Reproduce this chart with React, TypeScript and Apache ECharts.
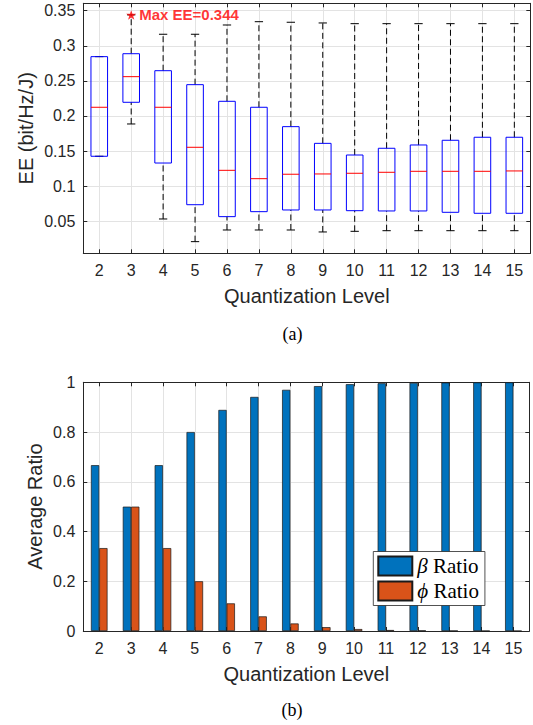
import React, { useEffect, useRef } from "react";
import * as echarts from "echarts";

const categories = ["2", "3", "4", "5", "6", "7", "8", "9", "10", "11", "12", "13", "14", "15"];
const levels = [2, 3, 4, 5, 6, 7, 8, 9, 10, 11, 12, 13, 14, 15];

const eeMin = [0.1426, 0.1886, 0.0533, 0.021, 0.0376, 0.0376, 0.0376, 0.0348, 0.0357, 0.0366, 0.0366, 0.0366, 0.0366, 0.0366];
const eeQ1 = [0.1426, 0.2195, 0.133, 0.0736, 0.0566, 0.0637, 0.0661, 0.0661, 0.0651, 0.0647, 0.0647, 0.0628, 0.0614, 0.0614];
const eeMedian = [0.2124, 0.256, 0.2124, 0.1554, 0.1226, 0.1107, 0.117, 0.1174, 0.1184, 0.1198, 0.1212, 0.1212, 0.1212, 0.1217];
const eeQ3 = [0.2845, 0.2887, 0.2645, 0.2446, 0.2209, 0.2124, 0.1848, 0.161, 0.1444, 0.154, 0.1587, 0.1654, 0.1697, 0.1697];
const eeMax = [0.2845, 0.344, 0.3164, 0.3164, 0.3296, 0.3343, 0.3335, 0.3325, 0.3315, 0.3315, 0.3315, 0.3315, 0.3315, 0.3315];

const maxPoint = [3, 0.344];
const maxLabel = "Max EE=0.344";

const betaRatio = [0.6667, 0.5, 0.6667, 0.8, 0.8889, 0.9412, 0.9697, 0.9846, 0.9922, 0.9961, 0.998, 0.999, 0.9995, 0.9998];
const phiRatio = [0.3333, 0.5, 0.3333, 0.2, 0.1111, 0.0588, 0.0303, 0.0154, 0.0078, 0.0039, 0.002, 0.001, 0.0005, 0.0002];

const AX = "#262626";
const GRID = "#e3e3e3";
const SANS = "Liberation Sans, Arial, Helvetica, sans-serif";
const SERIF = "Liberation Serif, Times New Roman, serif";

const STAR =
  "path://M0,-10 L2.35,-3.24 L9.51,-3.09 L3.8,1.24 L5.88,8.09 L0,4 L-5.88,8.09 L-3.8,1.24 L-9.51,-3.09 L-2.35,-3.24 Z";

function valueX(gridIndex: number, position: "top" | "bottom", main: boolean) {
  return {
    type: "value",
    gridIndex,
    position,
    min: 1.5,
    max: 15.5,
    splitNumber: 14,
    minInterval: 1,
    maxInterval: 1,
    name: main ? "Quantization Level" : "",
    nameLocation: "middle",
    nameGap: 33,
    nameMoveOverlap: false,
    nameTextStyle: { fontSize: 20, color: AX, fontFamily: SANS },
    axisLine: { show: true, onZero: false, lineStyle: { color: AX, width: 1 } },
    axisTick: { show: true, inside: true, length: 4, lineStyle: { color: AX, width: 1 } },
    axisLabel: {
      show: main,
      showMinLabel: false,
      showMaxLabel: false,
      fontSize: 16,
      color: AX,
      fontFamily: SANS,
      margin: 9,
    },
    splitLine: { show: main, lineStyle: { color: GRID, width: 1 } },
  };
}

function valueY(
  gridIndex: number,
  position: "left" | "right",
  main: boolean,
  extra: any,
  name: string,
  nameGap: number,
  hideEnds: boolean
) {
  return Object.assign(
    {
      type: "value",
      gridIndex,
      position,
      name: main ? name : "",
      nameLocation: "middle",
      nameGap,
      nameMoveOverlap: false,
      nameTextStyle: { fontSize: 20, color: AX, fontFamily: SANS },
      axisLine: { show: true, onZero: false, lineStyle: { color: AX, width: 1 } },
      axisTick: { show: true, inside: true, length: 4, lineStyle: { color: AX, width: 1 } },
      axisLabel: {
        show: main,
        showMinLabel: !hideEnds,
        showMaxLabel: !hideEnds,
        fontSize: 16,
        color: AX,
        fontFamily: SANS,
        margin: 8,
      },
      splitLine: { show: main, lineStyle: { color: GRID, width: 1 } },
    },
    extra
  );
}

export default function App() {
  const ref = useRef<HTMLDivElement>(null);

  useEffect(() => {
    if (!ref.current) return;
    const chart = echarts.init(ref.current, null, { renderer: "svg" });

    const boxData = levels.map((lv, i) => [lv, eeMin[i], eeQ1[i], eeMedian[i], eeQ3[i], eeMax[i]]);

    const topY = { min: 0.0044, max: 0.3605, splitNumber: 7, minInterval: 0.05, maxInterval: 0.05 };
    const botY = { min: 0, max: 1, interval: 0.2 };

    const option: any = {
      animation: false,
      backgroundColor: "#fff",
      textStyle: { fontFamily: SANS },
      grid: [
        { left: 83.3, top: 3.3, width: 447, height: 250 },
        { left: 83.3, top: 382.3, width: 446, height: 248.7 },
      ],
      xAxis: [
        valueX(0, "bottom", true),
        valueX(0, "top", false),
        valueX(1, "bottom", true),
        valueX(1, "top", false),
        { type: "category", gridIndex: 1, data: categories, show: false, boundaryGap: true },
      ],
      yAxis: [
        valueY(0, "left", true, topY, "EE (bit/Hz/J)", 47, true),
        valueY(0, "right", false, topY, "", 0, true),
        valueY(1, "left", true, botY, "Average Ratio", 38, false),
        valueY(1, "right", false, botY, "", 0, false),
      ],
      legend: {
        data: ["β Ratio", "φ Ratio"],
        orient: "vertical",
        left: 373.3,
        top: 551.5,
        itemWidth: 34,
        itemHeight: 19,
        itemGap: 4,
        padding: [4, 6, 4, 4],
        backgroundColor: "#fff",
        borderColor: AX,
        borderWidth: 0.8,
        icon: "rect",
        formatter: (name: string) => (name.startsWith("β") ? "{g|β} Ratio" : "{g|ϕ} Ratio"),
        textStyle: {
          fontFamily: SERIF,
          fontSize: 21,
          color: "#000",
          rich: {
            g: { fontFamily: SERIF, fontSize: 21, fontStyle: "italic", color: "#000" },
          },
        },
      },
      graphic: [
        {
          type: "text",
          x: 292.5,
          y: 334,
          style: { text: "(a)", font: "18px " + SERIF, fill: "#000", textAlign: "center", textVerticalAlign: "middle" },
        },
        {
          type: "text",
          x: 292,
          y: 710,
          style: { text: "(b)", font: "18px " + SERIF, fill: "#000", textAlign: "center", textVerticalAlign: "middle" },
        },
      ],
      series: [
        {
          type: "custom",
          name: "EE",
          xAxisIndex: 0,
          yAxisIndex: 0,
          data: boxData,
          encode: { x: 0, y: [1, 2, 3, 4, 5] },
          renderItem: (params: any, api: any) => {
            const x = api.value(0);
            const pMin = api.coord([x, api.value(1)]);
            const pQ1 = api.coord([x, api.value(2)]);
            const pMed = api.coord([x, api.value(3)]);
            const pQ3 = api.coord([x, api.value(4)]);
            const pMax = api.coord([x, api.value(5)]);
            const band = api.size([1, 0])[0];
            const hw = band * 0.26;
            const cw = band * 0.13;
            const cx = pMed[0];
            const dash = { stroke: "#000", lineWidth: 1, lineDash: [6, 3.5], fill: null };
            const solid = { stroke: "#000", lineWidth: 1, fill: null };
            return {
              type: "group",
              children: [
                { type: "line", shape: { x1: cx, y1: pQ3[1], x2: cx, y2: pMax[1] }, style: dash },
                { type: "line", shape: { x1: cx, y1: pMin[1], x2: cx, y2: pQ1[1] }, style: dash },
                { type: "line", shape: { x1: cx - cw, y1: pMax[1], x2: cx + cw, y2: pMax[1] }, style: solid },
                { type: "line", shape: { x1: cx - cw, y1: pMin[1], x2: cx + cw, y2: pMin[1] }, style: solid },
                {
                  type: "rect",
                  shape: { x: cx - hw, y: pQ3[1], width: hw * 2, height: pQ1[1] - pQ3[1] },
                  style: { stroke: "#0000ff", lineWidth: 1, fill: "none" },
                },
                {
                  type: "line",
                  shape: { x1: cx - hw, y1: pMed[1], x2: cx + hw, y2: pMed[1] },
                  style: { stroke: "#ff0000", lineWidth: 1 },
                },
              ],
            };
          },
          z: 3,
        },
        {
          type: "scatter",
          name: "Max EE",
          xAxisIndex: 0,
          yAxisIndex: 0,
          data: [maxPoint],
          symbol: STAR,
          symbolSize: 10,
          symbolKeepAspect: true,
          itemStyle: { color: "#ff0000" },
          label: {
            show: true,
            position: "right",
            distance: 3,
            formatter: maxLabel,
            color: "#ff0000",
            fontWeight: "bold",
            fontSize: 15,
            fontFamily: SANS,
          },
          z: 5,
        },
        {
          type: "bar",
          name: "β Ratio",
          xAxisIndex: 4,
          yAxisIndex: 2,
          data: betaRatio,
          barWidth: "26%",
          barGap: "0%",
          itemStyle: { color: "#0072BD", borderColor: "#1a1a1a", borderWidth: 0.7 },
        },
        {
          type: "bar",
          name: "φ Ratio",
          xAxisIndex: 4,
          yAxisIndex: 2,
          data: phiRatio,
          barWidth: "26%",
          barGap: "0%",
          itemStyle: { color: "#D95319", borderColor: "#1a1a1a", borderWidth: 0.7 },
        },
      ],
    };

    chart.setOption(option);
    return () => chart.dispose();
  }, []);

  return (
    <div
      ref={ref}
      style={{ position: "absolute", left: 0, top: 0, width: 533, height: 725, background: "#fff" }}
    />
  );
}
